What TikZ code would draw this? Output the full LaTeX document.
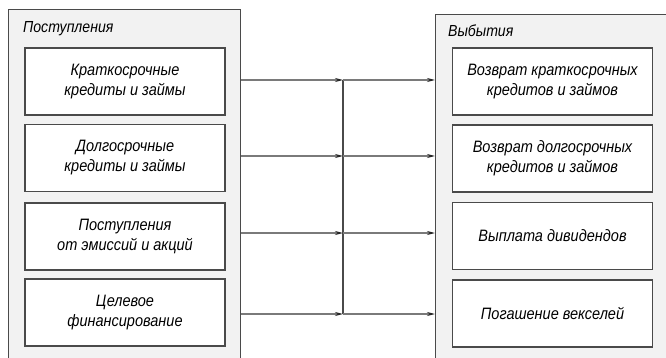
\documentclass[tikz,border=0pt]{standalone}
\usepackage{fontspec}
\setmainfont{Liberation Sans}[FakeStretch=0.88]
\usetikzlibrary{arrows.meta}
\definecolor{panelfill}{HTML}{F2F2F2}
\definecolor{edge}{HTML}{4A4A4A}
\definecolor{wire}{HTML}{7A7A7A}
\tikzset{
  panel/.style={draw=edge, line width=1.3pt, fill=panelfill, anchor=north west, inner sep=0pt},
  itembox/.style={draw=edge, line width=1.3pt, fill=white, minimum width=200pt, minimum height=67pt,
    align=center, inner sep=0pt, font=\fontsize{16.5}{20}\selectfont\itshape},
  title/.style={anchor=west, inner sep=0pt, font=\fontsize{16}{20}\selectfont\itshape},
  arr/.style={draw=wire, line width=1.2pt, -{Stealth[length=8pt,width=4pt,color=black!85]}},
  wireline/.style={draw=edge, line width=1.2pt}
}
\begin{document}
\begin{tikzpicture}[x=1pt,y=-1pt]
\clip (0,0) rectangle (666,358);
\fill[white] (0,0) rectangle (666,358);
\node[panel, minimum width=232pt, minimum height=380pt] (lp) at (8,9) {};
\node[panel, minimum width=260pt, minimum height=380pt] (rp) at (435,14) {};
\node[title] (lt) at (23,29) {Поступления};
\node[title] (rt) at (448,31) {Выбытия};
\node[itembox] (l1) at (125,81.5) {Краткосрочные\\кредиты и займы};
\node[itembox] (l2) at (125,158) {Долгосрочные\\кредиты и займы};
\node[itembox] (l3) at (125,236.5) {Поступления\\от эмиссий и акций};
\node[itembox] (l4) at (125,312.5) {Целевое\\финансирование};
\node[itembox] (r1) at (552.5,81.5) {Возврат краткосрочных\\кредитов и займов};
\node[itembox] (r2) at (552.5,158.5) {Возврат долгосрочных\\кредитов и займов};
\node[itembox] (r3) at (552.5,236) {Выплата дивидендов};
\node[itembox] (r4) at (552.5,313.5) {Погашение векселей};
\coordinate (j1) at (343,80);
\coordinate (j2) at (343,156);
\coordinate (j3) at (343,233);
\coordinate (j4) at (343,314);
\draw[wireline] (j1) -- (j4);
\foreach \i in {1,2,3,4}{
  \draw[arr] (j\i -| lp.east) -- (j\i);
  \draw[arr] (j\i) -- (j\i -| rp.west);
}
\end{tikzpicture}
\end{document}
